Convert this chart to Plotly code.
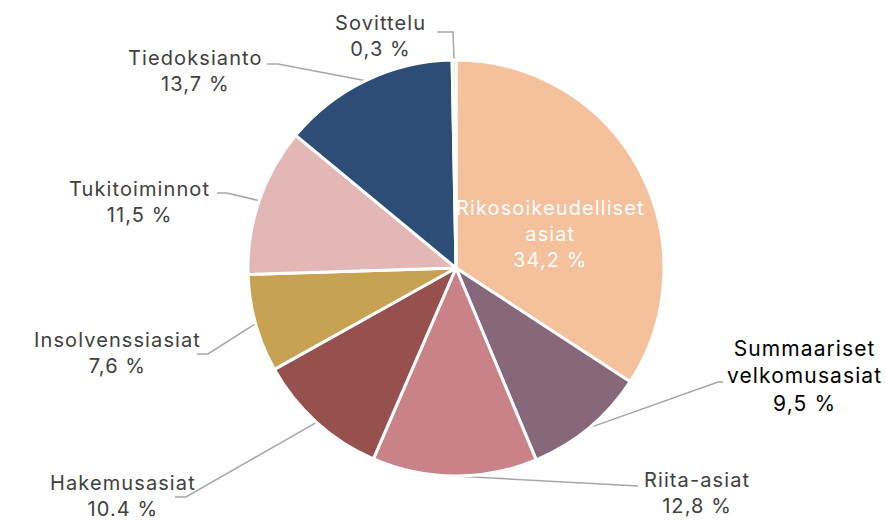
import math
import plotly.graph_objects as go

# ---- data ----
categories = ["Rikosoikeudelliset asiat", "Summaariset velkomusasiat", "Riita-asiat",
              "Hakemusasiat", "Insolvenssiasiat", "Tukitoiminnot", "Tiedoksianto", "Sovittelu"]
values = [34.2, 9.5, 12.8, 10.4, 7.6, 11.5, 13.7, 0.3]
value_labels = ["34,2 %", "9,5 %", "12,8 %", "10.4 %", "7,6 %", "11,5 %", "13,7 %", "0,3 %"]
label_lines = [["Rikosoikeudelliset", "asiat"], ["Summaariset", "velkomusasiat"], ["Riita-asiat"],
               ["Hakemusasiat"], ["Insolvenssiasiat"], ["Tukitoiminnot"], ["Tiedoksianto"], ["Sovittelu"]]

# ---- style ----
colors = ["#F5C09C", "#87677A", "#C98287", "#96504D", "#C6A252", "#E4B7B7", "#2C4E76", "#D9D9D9"]
W, H = 886, 520
CX, CY, R = 456, 268, 208
FONT = "Inter"
LS = "letter-spacing:1.1px"

# label placement (pixel coords of text-block centre, elbow points of leader line)
placement = {
    "Rikosoikeudelliset asiat": dict(tx=550, ty=234, elbow=None, color="white", size=20),
    "Summaariset velkomusasiat": dict(tx=804, ty=376, elbow=[(723, 382), (718, 382)], color="#000000", size=21),
    "Riita-asiat": dict(tx=697, ty=493, elbow=[(638, 486)], color="#404040", size=20),
    "Hakemusasiat": dict(tx=123, ty=496, elbow=[(175, 497), (186, 497)], color="#404040", size=20),
    "Insolvenssiasiat": dict(tx=117, ty=353, elbow=[(197, 354), (208, 354)], color="#404040", size=20),
    "Tukitoiminnot": dict(tx=139, ty=202, elbow=[(217, 193), (227, 193)], color="#404040", size=20),
    "Tiedoksianto": dict(tx=195, ty=71, elbow=[(267, 64), (278, 64)], color="#404040", size=20),
    "Sovittelu": dict(tx=380, ty=36, elbow=[(437, 32), (453, 32)], color="#404040", size=20),
}

fig = go.Figure()
fig.add_trace(go.Pie(
    labels=categories, values=values, sort=False, direction="clockwise", rotation=0,
    marker=dict(colors=colors, line=dict(color="white", width=3)),
    textinfo="none", hoverinfo="label+percent", showlegend=False,
    domain=dict(x=[(CX - R) / W, (CX + R) / W], y=[1 - (CY + R) / H, 1 - (CY - R) / H]),
))

total = sum(values)
cum = 0.0
annotations = []
for cat, v, vl, lines in zip(categories, values, value_labels, label_lines):
    mid = (cum + v / 2) / total * 2 * math.pi
    cum += v
    p = placement[cat]
    ex, ey = CX + R * math.sin(mid), CY - R * math.cos(mid)
    if p["elbow"]:
        xs = [pt[0] for pt in p["elbow"]] + [ex]
        ys = [pt[1] for pt in p["elbow"]] + [ey]
        fig.add_trace(go.Scatter(x=xs, y=ys, mode="lines", line=dict(color="#A6A6A6", width=1.5),
                                 hoverinfo="skip", showlegend=False))
    txt = "<br>".join(f'<span style="{LS}">{t}</span>' for t in lines + [vl])
    annotations.append(dict(x=p["tx"], y=p["ty"], xref="x", yref="y", text=txt, showarrow=False,
                            xanchor="center", yanchor="middle", align="center",
                            font=dict(family=FONT, size=p["size"], color=p["color"])))

fig.update_layout(
    width=W, height=H, margin=dict(l=0, r=0, t=0, b=0),
    paper_bgcolor="white", plot_bgcolor="rgba(0,0,0,0)",
    xaxis=dict(range=[0, W], visible=False, fixedrange=True),
    yaxis=dict(range=[H, 0], visible=False, fixedrange=True),
    annotations=annotations,
)
fig.write_html("out.html", config={"displayModeBar": False},
               post_script="document.body.style.margin='0';")
